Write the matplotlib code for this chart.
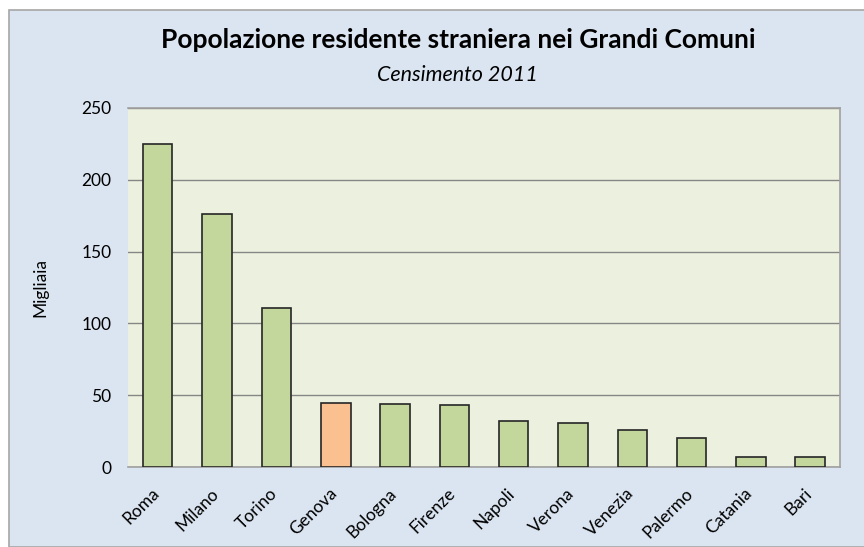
import matplotlib
matplotlib.use('Agg')
import matplotlib.pyplot as plt
from matplotlib.patches import Rectangle
from matplotlib.transforms import ScaledTranslation

# Popolazione residente straniera (migliaia), Censimento 2011
comuni = ['Roma', 'Milano', 'Torino', 'Genova', 'Bologna', 'Firenze',
          'Napoli', 'Verona', 'Venezia', 'Palermo', 'Catania', 'Bari']
stranieri = [224.7, 176.5, 111.0, 44.6, 44.0, 43.2, 31.8, 30.5, 25.8, 19.9, 7.0, 6.8]
evidenziato = 'Genova'

yticks = [0, 50, 100, 150, 200, 250]

plt.rcParams['font.family'] = ['Lato', 'DejaVu Sans']

fig = plt.figure(figsize=(8.64, 5.47), dpi=100)
fig.patch.set_facecolor('white')
# sfondo del grafico (stile Excel)
sfondo = Rectangle((8.5 / 864, 0), 1.0, (547 - 9.5) / 547, transform=fig.transFigure,
                   facecolor='#DBE5F1', edgecolor='#A6A6A6', linewidth=1.2, zorder=-1)
fig.add_artist(sfondo)

ax = fig.add_axes([128 / 864, (547 - 467) / 547, (840 - 128) / 864, (467 - 108) / 547])
ax.set_zorder(1)
ax.set_facecolor('#EBF1DE')

colori = ['#FAC090' if c == evidenziato else '#C3D69B' for c in comuni]
ax.bar(range(len(comuni)), stranieri, width=0.5, color=colori,
       edgecolor='#262626', linewidth=1.2, zorder=3)

ax.set_xlim(-0.5, len(comuni) - 0.5)
ax.set_ylim(0, 250)
ax.set_yticks(yticks)
ax.set_yticklabels([str(v) for v in yticks], fontsize=12.5)
ax.yaxis.grid(True, color='#868686', linewidth=1)
ax.set_axisbelow(True)
ax.tick_params(axis='y', length=0, pad=12)
ax.tick_params(axis='x', length=0, pad=13)
ax.set_xticks(range(len(comuni)))
ax.set_xticklabels(comuni, rotation=45, ha='right', rotation_mode='anchor', fontsize=12.5)
# sposta un po' a sinistra le etichette ruotate
sposta = ScaledTranslation(-7 / 100, 0, fig.dpi_scale_trans)
for lab in ax.get_xticklabels():
    lab.set_transform(lab.get_transform() + sposta)

for side in ['top', 'right', 'bottom']:
    ax.spines[side].set_color('#A0A0A0')
    ax.spines[side].set_linewidth(1.2)
ax.spines['left'].set_visible(False)

ax.set_ylabel('Migliaia', fontsize=12.5, labelpad=24)

fig.text(0.53, (547 - 40) / 547, 'Popolazione residente straniera nei Grandi Comuni',
         ha='center', va='center', fontsize=19, fontweight='bold')
fig.text(0.53, (547 - 75) / 547, 'Censimento 2011', ha='center', va='center',
         fontsize=15.5, style='italic')

fig.savefig('out.png', dpi=100)
